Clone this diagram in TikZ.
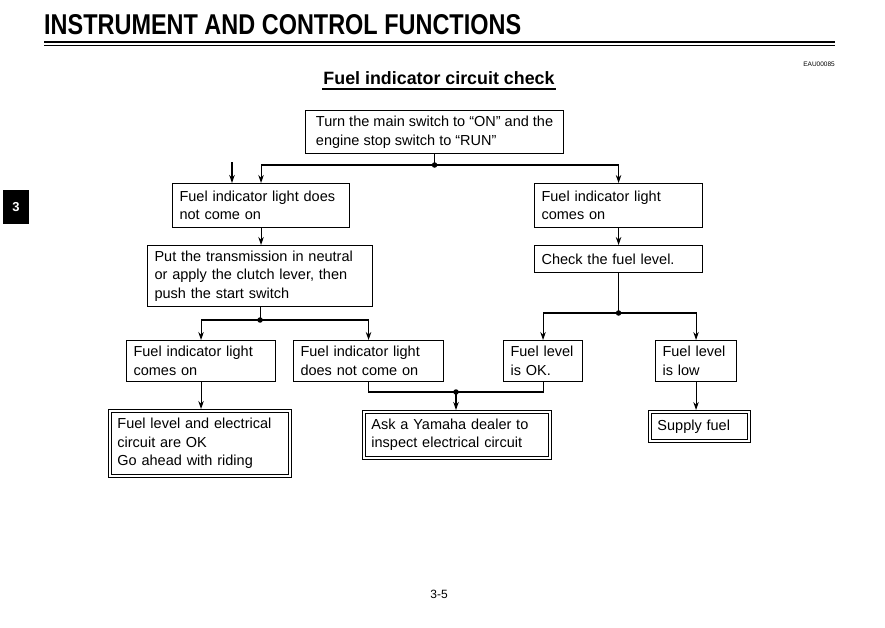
\documentclass[tikz,border=0pt]{standalone}
\usepackage{fontspec}
\setmainfont{Liberation Sans}
\usetikzlibrary{arrows.meta}
\begin{document}
\begin{tikzpicture}[x=1pt,y=-1pt,
  fbox/.style={draw, line width=1.1pt, anchor=north west, align=left, inner xsep=7pt, inner ysep=0pt, font=\fontsize{14.5}{18.5}\selectfont},
  dbox/.style={fbox, line width=0.9pt, inner xsep=9pt},
  inbox/.style={line width=0.9pt},
  con/.style={line width=1.1pt},
  arr/.style={con, -{Stealth[length=8pt,width=5.5pt]}},
  jdot/.style={circle, fill=black, inner sep=0pt, minimum size=5.5pt}]
\useasboundingbox (0,0) rectangle (885,627);

% header
\node[anchor=base west, inner sep=0] (title) at (44,34) {\resizebox{477pt}{20pt}{\bfseries INSTRUMENT AND CONTROL FUNCTIONS}};
\draw[line width=2.6pt] (44,42) -- (835,42);
\draw[line width=0.8pt] (44,45.8) -- (835,45.8);
\node[anchor=base east, inner sep=0, font=\fontsize{6.5}{7}\selectfont] (code) at (835,66) {EAU00085};
\node[anchor=base, inner sep=0] (sub) at (439,84) {\resizebox{231pt}{!}{\bfseries Fuel indicator circuit check}};
\draw[line width=1.8pt] (322,89) -- (556,89);

% side tab and page number
\node[fill=black, text=white, minimum width=26pt, minimum height=34pt, inner sep=0pt, font=\bfseries\fontsize{13}{13}\selectfont] (tab) at (16,207) {3};
\node[inner sep=0pt, font=\fontsize{12}{12}\selectfont] (page) at (439,594) {3-5};

% boxes
\node[fbox, inner xsep=0pt, minimum width=258pt, minimum height=43pt] (b1) at (305,110) {Turn the main switch to “ON” and the\\engine stop switch to “RUN”};
\node[fbox, text width=163pt, minimum height=44pt] (b2l) at (172,183) {Fuel indicator light does\\not come on};
\node[fbox, text width=154pt, minimum height=44pt] (b2r) at (534,183) {Fuel indicator light\\comes on};
\node[fbox, text width=211pt, minimum height=61pt] (b3l) at (147,245) {Put the transmission in neutral\\or apply the clutch lever, then\\push the start switch};
\node[fbox, text width=154pt, minimum height=27pt] (b3r) at (534,245) {Check the fuel level.};
\node[fbox, text width=135pt, minimum height=41pt] (b4a) at (126,340) {Fuel indicator light\\comes on};
\node[fbox, text width=136pt, minimum height=41pt] (b4b) at (293,340) {Fuel indicator light\\does not come on};
\node[fbox, text width=65pt, minimum height=41pt] (b4c) at (503,340) {Fuel level\\is OK.};
\node[fbox, text width=67pt, minimum height=41pt] (b4d) at (655,340) {Fuel level\\is low};
\node[dbox, text width=165pt, minimum height=68pt] (b5a) at (108,409) {Fuel level and electrical\\circuit are OK\\Go ahead with riding};
\node[dbox, text width=171pt, minimum height=49pt] (b5b) at (362,410) {Ask a Yamaha dealer to\\inspect electrical circuit};
\node[dbox, text width=84pt, minimum height=32pt] (b5c) at (648,410) {Supply fuel};
\draw[inbox] ([shift={(3,3)}]b5a.north west) rectangle ([shift={(-3,-3)}]b5a.south east);
\draw[inbox] ([shift={(3,3)}]b5b.north west) rectangle ([shift={(-3,-3)}]b5b.south east);
\draw[inbox] ([shift={(3,3)}]b5c.north west) rectangle ([shift={(-3,-3)}]b5c.south east);

% junctions
\coordinate (j1) at (b1.south |- 0,165);
\coordinate (j2) at (b3l.south |- 0,320);
\coordinate (j3) at (b3r.south |- 0,313);
\coordinate (j4) at (456,392);
\coordinate (s1) at (232,162);

% connectors
\draw[con] (b1.south) -- (j1);
\draw[arr] (j1) -| (b2l.north);
\draw[arr] (j1) -| (b2r.north);
\draw[arr] (s1) -- (s1 |- b2l.north);
\draw[arr] (b2l.south) -- (b2l.south |- b3l.north);
\draw[arr] (b2r.south) -- (b2r.south |- b3r.north);
\draw[con] (b3l.south) -- (j2);
\draw[arr] (j2) -| (b4a.north);
\draw[arr] (j2) -| (b4b.north);
\draw[con] (b3r.south) -- (j3);
\draw[arr] (j3) -| (b4c.north);
\draw[arr] (j3) -| (b4d.north);
\draw[arr] (b4a.south) -- (b4a.south |- b5a.north);
\draw[con] (b4b.south) |- (j4) -| (b4c.south);
\draw[arr] (j4) -- (j4 |- b5b.north);
\draw[arr] (b4d.south) -- (b4d.south |- b5c.north);

\node[jdot] (d1) at (j1) {};
\node[jdot] (d2) at (j2) {};
\node[jdot] (d3) at (j3) {};
\node[jdot] (d4) at (j4) {};
\end{tikzpicture}
\end{document}
